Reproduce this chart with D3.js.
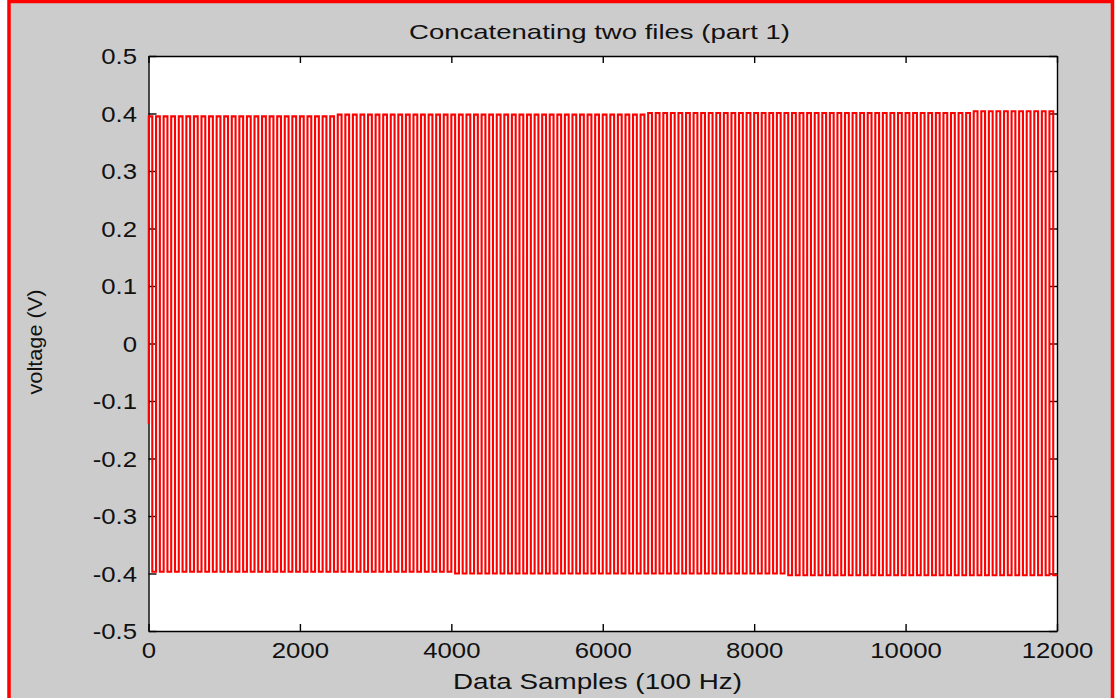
<!DOCTYPE html>
<html>
<head>
<meta charset="utf-8">
<script src="https://cdn.jsdelivr.net/npm/d3@7"></script>
<style>
  body { margin: 0; background: #fff; }
  text { font-family: "Liberation Sans", Arial, sans-serif; fill: #111; }
</style>
</head>
<body>
<div id="chart"></div>
<script>
// signal: one peak and one trough per cycle (120 cycles)
var startValue = -0.14;
var peaks = [
  0.395,0.395,0.395,0.395,0.395,0.395,0.395,0.395,0.395,0.395,
  0.395,0.395,0.395,0.395,0.395,0.395,0.395,0.395,0.395,0.395,
  0.395,0.395,0.395,0.395,0.395,0.398,0.398,0.398,0.398,0.398,
  0.398,0.398,0.398,0.398,0.398,0.398,0.398,0.398,0.398,0.398,
  0.398,0.398,0.398,0.398,0.398,0.398,0.398,0.398,0.398,0.398,
  0.398,0.398,0.398,0.398,0.398,0.398,0.398,0.398,0.398,0.398,
  0.398,0.398,0.398,0.398,0.398,0.398,0.401,0.401,0.401,0.401,
  0.401,0.401,0.401,0.401,0.401,0.401,0.401,0.401,0.401,0.401,
  0.401,0.401,0.401,0.401,0.401,0.401,0.401,0.401,0.401,0.401,
  0.401,0.401,0.401,0.401,0.401,0.401,0.401,0.401,0.401,0.401,
  0.401,0.401,0.401,0.401,0.401,0.401,0.401,0.401,0.401,0.404,
  0.404,0.404,0.404,0.404,0.404,0.404,0.404,0.404,0.404,0.404
];
var troughs = [
  -0.397,-0.397,-0.397,-0.397,-0.397,-0.397,-0.397,-0.397,-0.397,-0.397,
  -0.397,-0.397,-0.397,-0.397,-0.397,-0.397,-0.397,-0.397,-0.397,-0.397,
  -0.397,-0.397,-0.397,-0.397,-0.397,-0.397,-0.397,-0.397,-0.397,-0.397,
  -0.397,-0.397,-0.397,-0.397,-0.397,-0.397,-0.397,-0.397,-0.397,-0.397,
  -0.400,-0.400,-0.400,-0.400,-0.400,-0.400,-0.400,-0.400,-0.400,-0.400,
  -0.400,-0.400,-0.400,-0.400,-0.400,-0.400,-0.400,-0.400,-0.400,-0.400,
  -0.400,-0.400,-0.400,-0.400,-0.400,-0.400,-0.400,-0.400,-0.400,-0.400,
  -0.400,-0.400,-0.400,-0.400,-0.400,-0.400,-0.400,-0.400,-0.400,-0.400,
  -0.400,-0.400,-0.400,-0.400,-0.403,-0.403,-0.403,-0.403,-0.403,-0.403,
  -0.403,-0.403,-0.403,-0.403,-0.403,-0.403,-0.403,-0.403,-0.403,-0.403,
  -0.403,-0.403,-0.403,-0.403,-0.403,-0.403,-0.403,-0.403,-0.403,-0.403,
  -0.403,-0.403,-0.403,-0.403,-0.403,-0.403,-0.403,-0.403,-0.403,-0.403
];
var nSamples = 12000;
var xTicks = [0, 2000, 4000, 6000, 8000, 10000, 12000];
var yTicks = [-0.5, -0.4, -0.3, -0.2, -0.1, 0, 0.1, 0.2, 0.3, 0.4, 0.5];
var title = "Concatenating two files (part 1)";
var xLabel = "Data Samples (100 Hz)";
var yLabel = "voltage (V)";

var W = 1116, H = 698;
var box = {left: 148.5, right: 1057, top: 56, bottom: 631};
var stretch = 1.17; // text in the picture is a bit wide

var svg = d3.select("#chart").append("svg")
  .attr("width", W)
  .attr("height", H);

// figure background with red frame
svg.append("rect")
  .attr("x", 9).attr("y", 1.5)
  .attr("width", 1103.5).attr("height", 720)
  .attr("fill", "#cccccc")
  .attr("stroke", "#ff0000")
  .attr("stroke-width", 3.5);

svg.append("rect")
  .attr("x", box.left).attr("y", box.top)
  .attr("width", box.right - box.left)
  .attr("height", box.bottom - box.top)
  .attr("fill", "#fff");

var x = d3.scaleLinear().domain([0, nSamples]).range([box.left, box.right]);
var y = d3.scaleLinear().domain([-0.5, 0.5]).range([box.bottom, box.top]);

// build the vertex list: start, then peak / trough for each cycle
var half = nSamples / (peaks.length * 2);
var signal = [{s: 0, v: startValue}];
for (var k = 0; k < peaks.length; k++) {
  signal.push({s: (2 * k + 1) * half, v: peaks[k]});
  signal.push({s: (2 * k + 2) * half, v: troughs[k]});
}

// axes, ticks pointing inside on all four sides
var gBottom = svg.append("g")
  .attr("transform", "translate(0," + box.bottom + ")")
  .call(d3.axisBottom(x).tickValues(xTicks).tickSizeInner(-7).tickSizeOuter(0).tickFormat(d3.format("d")));
gBottom.selectAll("text")
  .attr("y", 27).attr("dy", 0)
  .attr("font-size", 22)
  .attr("transform", "scale(" + stretch + ",1)");

var gLeft = svg.append("g")
  .attr("transform", "translate(" + box.left + ",0)")
  .call(d3.axisLeft(y).tickValues(yTicks).tickSizeInner(-8).tickSizeOuter(0)
    .tickFormat(function(d) { return d === 0 ? "0" : d3.format(".1f")(d).replace("−", "-"); }));
gLeft.selectAll("text")
  .attr("x", -(box.left - 137) / stretch).attr("dy", "0.36em")
  .attr("font-size", 22)
  .attr("transform", "scale(" + stretch + ",1)");

svg.append("g")
  .attr("transform", "translate(0," + box.top + ")")
  .call(d3.axisTop(x).tickValues(xTicks).tickSizeInner(-7).tickSizeOuter(0).tickFormat(""));
svg.append("g")
  .attr("transform", "translate(" + box.right + ",0)")
  .call(d3.axisRight(y).tickValues(yTicks).tickSizeInner(-8).tickSizeOuter(0).tickFormat(""));

svg.selectAll(".domain, .tick line")
  .attr("stroke", "#000")
  .attr("stroke-width", 1.4);
svg.selectAll(".tick text").attr("fill", "#111");

// the signal
svg.append("clipPath").attr("id", "clip")
  .append("rect")
  .attr("x", box.left - 1).attr("y", box.top)
  .attr("width", box.right - box.left + 1)
  .attr("height", box.bottom - box.top);

var line = d3.line()
  .x(function(d) { return x(d.s); })
  .y(function(d) { return y(d.v); })
  .curve(d3.curveStepBefore);

svg.append("path")
  .datum(signal)
  .attr("clip-path", "url(#clip)")
  .attr("fill", "none")
  .attr("stroke", "#ff0000")
  .attr("stroke-width", 2.1)
  .attr("d", line);

// labels
svg.append("text")
  .attr("x", 599.5).attr("y", 39)
  .attr("text-anchor", "middle")
  .attr("font-size", 21)
  .attr("textLength", 381)
  .attr("lengthAdjust", "spacingAndGlyphs")
  .text(title);

svg.append("text")
  .attr("x", 597.5).attr("y", 689)
  .attr("text-anchor", "middle")
  .attr("font-size", 22)
  .attr("textLength", 289)
  .attr("lengthAdjust", "spacingAndGlyphs")
  .text(xLabel);

svg.append("text")
  .attr("transform", "translate(42,342) rotate(-90)")
  .attr("text-anchor", "middle")
  .attr("font-size", 20)
  .attr("textLength", 105)
  .attr("lengthAdjust", "spacingAndGlyphs")
  .text(yLabel);
</script>
</body>
</html>
